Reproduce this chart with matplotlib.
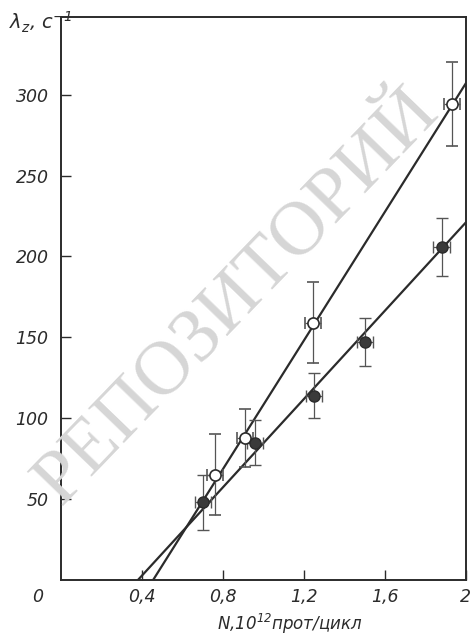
import numpy as np
import matplotlib
matplotlib.use('Agg')
import matplotlib.pyplot as plt

# Данные
n_open = [0.76, 0.91, 1.245, 1.93]
lam_open = [65, 88, 159, 294]
err_open = [25, 18, 25, 26]
xerr_open = [0.04, 0.04, 0.04, 0.04]

n_fill = [0.70, 0.96, 1.25, 1.50, 1.88]
lam_fill = [48, 85, 114, 147, 206]
err_fill = [17, 14, 14, 15, 18]
xerr_fill = [0.04, 0.04, 0.04, 0.04, 0.04]

# Прямые: точки пересечения с осью абсцисс и значения на правом краю
line_open_x = [0.455, 2.0]
line_open_y = [0, 307]
line_fill_x = [0.38, 2.0]
line_fill_y = [0, 221]

xticks = [0.4, 0.8, 1.2, 1.6, 2.0]
xticklabels = ['0,4', '0,8', '1,2', '1,6', '2']
yticks = [50, 100, 150, 200, 250, 300]

plt.rcParams['font.family'] = ['DejaVu Sans']
plt.rcParams['font.style'] = 'italic'
plt.rcParams['mathtext.fontset'] = 'dejavusans'

fig = plt.figure(figsize=(4.71, 6.39), dpi=100)
ax = fig.add_axes([0.1295, 0.0923, 0.8595, 0.8811])

ink = '#2b2b2b'

# водяной знак
fig.text(0.505, 0.535, 'РЕПОЗИТОРИЙ', rotation=46, ha='center', va='center',
         fontsize=55, color='#d6d6d6', family=['Liberation Serif', 'DejaVu Serif'],
         style='normal', zorder=0)

ax.plot(line_open_x, line_open_y, color=ink, lw=1.6, zorder=3)
ax.plot(line_fill_x, line_fill_y, color=ink, lw=1.6, zorder=3)

ax.errorbar(n_open, lam_open, yerr=err_open, xerr=xerr_open, fmt='o', ms=8,
            mfc='white', mec=ink, mew=1.2, ecolor='#555555', elinewidth=0.9,
            capsize=4, capthick=0.9, zorder=4)
ax.errorbar(n_fill, lam_fill, yerr=err_fill, xerr=xerr_fill, fmt='o', ms=8,
            mfc='#3a3a3a', mec=ink, mew=1.0, ecolor='#555555', elinewidth=0.9,
            capsize=4, capthick=0.9, zorder=4)

ax.set_xlim(0, 2.0)
ax.set_ylim(0, 348)
ax.patch.set_alpha(0)

ax.set_xticks(xticks)
ax.set_xticklabels(xticklabels)
ax.set_yticks(yticks)
ax.tick_params(direction='in', length=7, width=1.0, color=ink, labelsize=12.5,
               labelcolor=ink)
ax.tick_params(axis='x', pad=6)
ax.tick_params(axis='y', pad=9)

for s in ax.spines.values():
    s.set_color(ink)
    s.set_linewidth(1.4)

ax.text(-0.057, -0.03, '0', transform=ax.transAxes, ha='center', va='center',
        fontsize=12.5, color=ink)
fig.text(0.02, 0.965, r'$\lambda_z$, c$^{-1}$', ha='left', va='center',
         fontsize=14, color=ink)
ax.set_xlabel(r'N,10$^{12}$прот/цикл', fontsize=12, color=ink)
ax.xaxis.set_label_coords(0.565, -0.056)

plt.savefig('out.png', dpi=100)
plt.close()
